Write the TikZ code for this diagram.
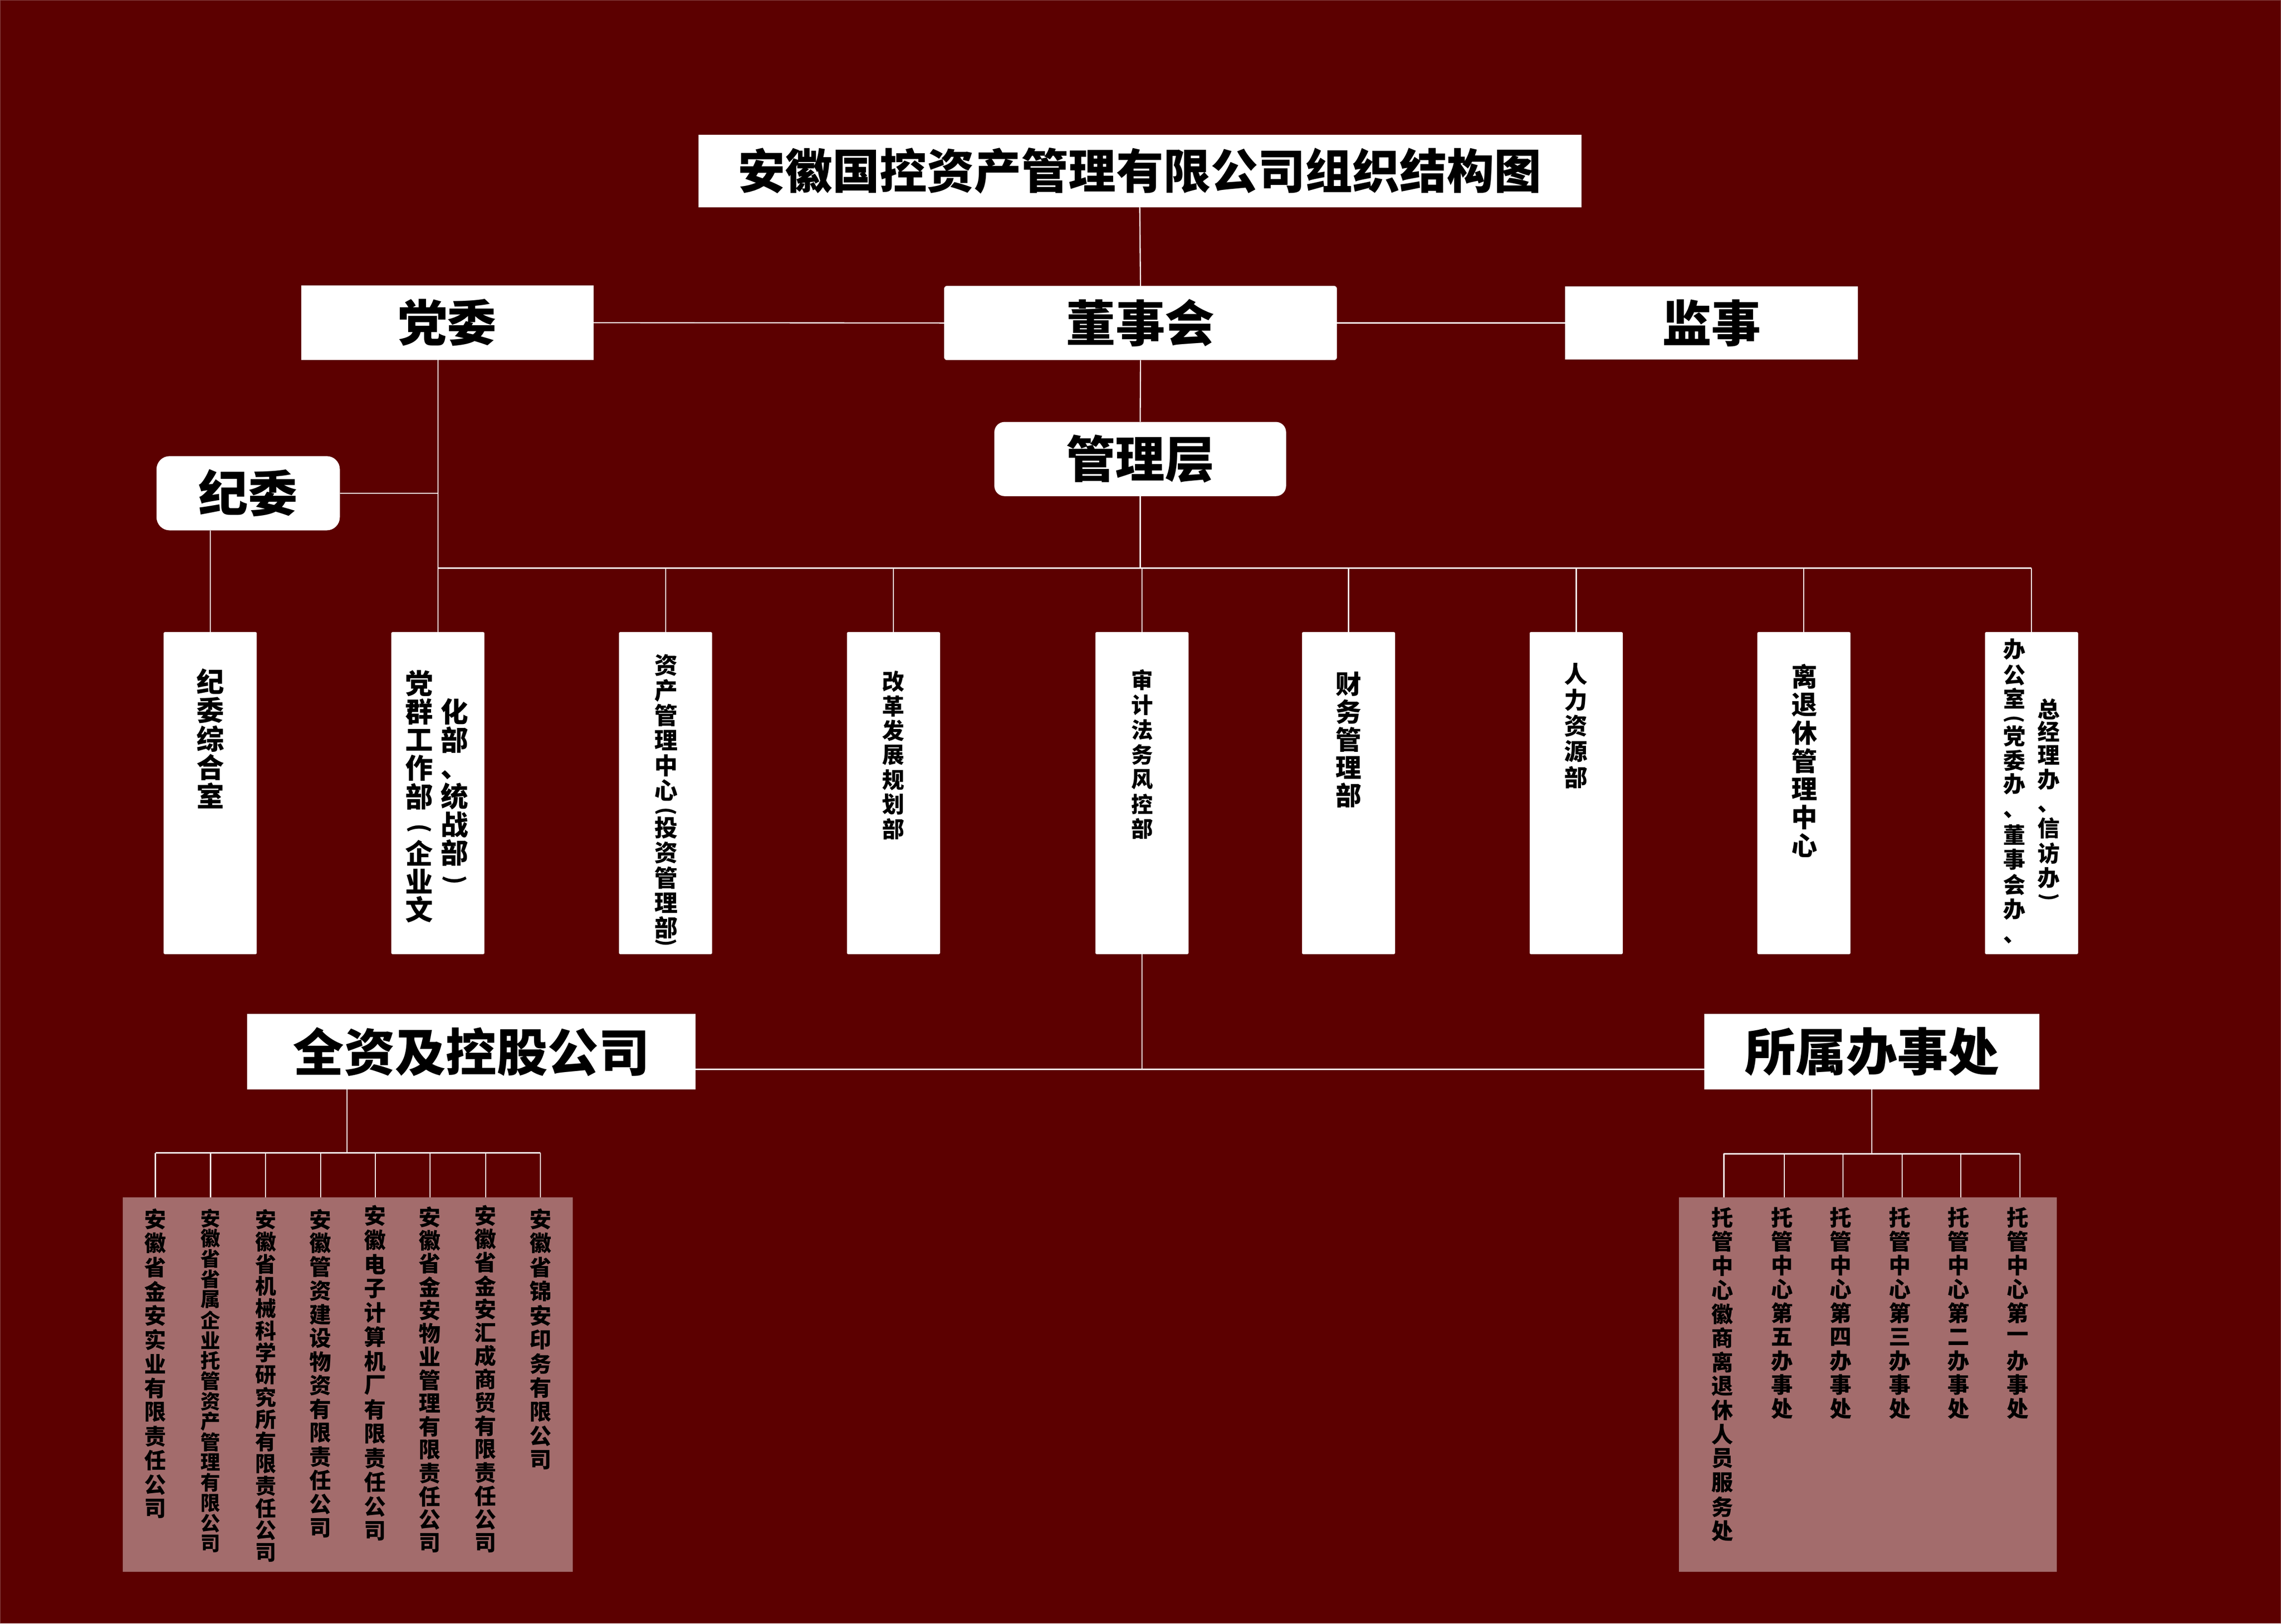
\documentclass[tikz,border=0pt]{standalone}
\usepackage{fontspec}
\newfontfamily\cjk{Noto Sans CJK SC}
\definecolor{bg}{RGB}{92,0,0}
\definecolor{pk}{RGB}{163,108,108}
\definecolor{ln}{RGB}{250,238,238}
\definecolor{frame}{RGB}{140,72,72}
% vertical text, explicit offsets: name, x, y of first ink centre, step, font size, list char/offset
\newcommand\vtxt[6]{%
  \foreach \ch/\o [count=\k] in {#6}{%
    \node[vch, font={\cjk\bfseries\fontsize{#5mm}{#5mm}\selectfont}] (#1-\k) at (#2,{#3+\o*#4}) {\ch};}}
% vertical text, uniform steps
\newcommand\vtxu[6]{%
  \foreach \ch [count=\k from 0] in {#6}{%
    \node[vch, font={\cjk\bfseries\fontsize{#5mm}{#5mm}\selectfont}] (#1-\k) at (#2,{#3+\k*#4}) {\ch};}}
% vertical bracket (rotated bracket): name, x, y, font size, bracket
\newcommand\vbr[5]{%
  \node[vch, rotate=-90, font={\cjk\bfseries\fontsize{#4mm}{#4mm}\selectfont}] (#1) at (#2,#3) {#5};}
\begin{document}
\begin{tikzpicture}[x=1mm,y=-1mm,
  wbox/.style={fill=white,draw=none,inner sep=0,text=black},
  hd/.style={wbox,font={\cjk\bfseries\fontsize{34mm}{34mm}\selectfont}},
  dept/.style={wbox,minimum width=64mm,minimum height=221.3mm,rounded corners=0.8mm},
  pkbox/.style={fill=pk,draw=none,inner sep=0},
  vch/.style={inner sep=0,text=black,anchor=center},
  conn/.style={draw=ln,line width=0.8mm},
]
\fill[bg] (0,0) rectangle (1568,1116);
\draw[frame,line width=0.4mm] (0.2,0.2) rectangle (1567.8,1115.8);

% top level
\node[hd,minimum width=607mm,minimum height=50mm,font={\cjk\bfseries\fontsize{32.5mm}{32.5mm}\selectfont}] (title) at (783.5,117.5) {安徽国控资产管理有限公司组织结构图};
\node[hd,minimum width=270mm,minimum height=51mm,rounded corners=2mm] (dsh) at (784,222) {董事会};
\node[hd,minimum width=201mm,minimum height=50mm] (jianshi) at (1176.5,222) {监事};
\node[hd,minimum width=201mm,minimum height=51mm] (dangwei) at (307.5,221.8) {党委};
\node[hd,minimum width=200.5mm,minimum height=51mm,rounded corners=7mm] (glc) at (783.8,315.5) {管理层};
\node[hd,minimum width=126mm,minimum height=51mm,rounded corners=9mm] (jiwei) at (170.6,339) {纪委};

% departments
\node[dept] (d1) at (144.5,545.1) {};
\node[dept] (d2) at (301,545.1) {};
\node[dept] (d3) at (457.5,545.1) {};
\node[dept] (d4) at (614.2,545.1) {};
\node[dept] (d5) at (785,545.1) {};
\node[dept] (d6) at (927,545.1) {};
\node[dept] (d7) at (1083.5,545.1) {};
\node[dept] (d8) at (1240,545.1) {};
\node[dept] (d9) at (1396.5,545.1) {};

\vtxu{t1}{144.7}{468.4}{19.64}{19}{纪,委,综,合,室}
\vtxt{t2a}{288.2}{469.6}{19.45}{19}{党/0,群/1,工/2,作/3,部/4,企/6,业/7,文/8}
\vbr{t2a-p}{288.2}{569.2}{16}{(}
\vtxt{t2b}{312.5}{469.6}{19.45}{19}{化/1,部/2,、/3.24,统/4,战/5,部/6}
\vbr{t2b-p}{312.5}{605.0}{16}{)}
\vtxt{t3}{457.8}{457.4}{17.17}{16}{资/0,产/1,管/2,理/3,中/4,心/5,投/6.5,资/7.5,管/8.5,理/9.5,部/10.5}
\vbr{t3-p1}{457.8}{557.5}{14}{(}
\vbr{t3-p2}{457.8}{648.0}{14}{)}
\vtxu{t4}{614.2}{468.4}{16.9}{15.3}{改,革,发,展,规,划,部}
\vtxu{t5}{785}{467.5}{17.04}{15}{审,计,法,务,风,控,部}
\vtxu{t6}{927}{470.3}{19.07}{17.8}{财,务,管,理,部}
\vtxu{t7}{1083.5}{463.4}{17.7}{16}{人,力,资,源,部}
\vtxu{t8}{1240.5}{465}{19.33}{17.8}{离,退,休,管,理,中,心}
\vtxt{t9a}{1384.6}{446.3}{16.78}{15.3}{办/0,公/1.05,室/2,党/3.55,委/4.55,办/5.52,、/6.77,董/7.6,事/8.6,会/9.64,办/10.64,、/11.9}
\vbr{t9a-p}{1384.6}{494.3}{13.5}{(}
\vtxt{t9b}{1408.4}{446.3}{16.78}{15.3}{总/2.45,经/3.36,理/4.34,办/5.34,、/6.55,信/7.32,访/8.36,办/9.36}
\vbr{t9b-p}{1408.4}{616.6}{13.5}{)}

% lower headers
\node[hd,minimum width=308mm,minimum height=51.7mm,font={\cjk\bfseries\fontsize{35mm}{35mm}\selectfont}] (qz) at (324,722.8) {全资及控股公司};
\node[hd,minimum width=230.4mm,minimum height=51.7mm,font={\cjk\bfseries\fontsize{35mm}{35mm}\selectfont}] (sb) at (1286.8,722.8) {所属办事处};

% pink panels
\node[pkbox,minimum width=309.1mm,minimum height=257.3mm] (pL) at (239.05,951.65) {};
\node[pkbox,minimum width=260mm,minimum height=257.3mm] (pR) at (1284,951.65) {};

% connectors, upper part
\coordinate (bus) at (784,390.5);
\draw[conn] (title.south) -- (dsh.north);
\draw[conn] (dsh.south) -- (glc.north);
\draw[conn] (glc.south) -- (glc.south |- bus);
\draw[conn] (dangwei.east) -- (dsh.west);
\draw[conn] (dsh.east) -- (jianshi.west);
\draw[conn] (dangwei.south -| d2.north) -- (d2.north);
\draw[conn] (jiwei.east) -- (jiwei.east -| d2.north);
\draw[conn] (jiwei.south -| d1.north) -- (d1.north);
\draw[conn] (d2.north |- bus) -- (d9.north |- bus);
\foreach \d in {d3,d4,d5,d6,d7,d8,d9}{\draw[conn] (\d.north |- bus) -- (\d.north);}

% connectors, lower part
\coordinate (hb) at (784,735);
\draw[conn] (d5.south) -- (d5.south |- hb);
\draw[conn] (qz.east |- hb) -- (sb.west |- hb);

\coordinate (lb) at (238.5,792.4);
\draw[conn] (lb |- qz.south) -- (lb);
\foreach \x [count=\i] in {106.8,144.7,182.6,220.4,258,295.6,333.8,371.5}{\coordinate (cL\i) at (\x,823);}
\draw[conn] (cL1 |- lb) -- (cL8 |- lb);
\foreach \i in {1,...,8}{\draw[conn] (cL\i |- lb) -- (cL\i);}

\coordinate (rb) at (1286.8,793);
\draw[conn] (sb.south) -- (sb.south |- rb);
\foreach \x [count=\i] in {1185,1226.5,1267,1307.6,1348,1388.5}{\coordinate (cR\i) at (\x,823);}
\draw[conn] (cR1 |- rb) -- (cR6 |- rb);
\foreach \i in {1,...,6}{\draw[conn] (cR\i |- rb) -- (cR\i);}

% company names
\vtxu{q1}{106.8}{837.8}{16.6}{15}{安,徽,省,金,安,实,业,有,限,责,任,公,司}
\vtxu{q2}{144.7}{837.3}{13.98}{13.6}{安,徽,省,省,属,企,业,托,管,资,产,管,理,有,限,公,司}
\vtxu{q3}{182.6}{838.2}{15.26}{14.5}{安,徽,省,机,械,科,学,研,究,所,有,限,责,任,公,司}
\vtxu{q4}{220.4}{838.2}{16.3}{15}{安,徽,管,资,建,设,物,资,有,限,责,任,公,司}
\vtxu{q5}{258}{835.7}{16.65}{15}{安,徽,电,子,计,算,机,厂,有,限,责,任,公,司}
\vtxu{q6}{295.6}{836.5}{16}{15}{安,徽,省,金,安,物,业,管,理,有,限,责,任,公,司}
\vtxu{q7}{333.8}{835.7}{16.05}{15}{安,徽,省,金,安,汇,成,商,贸,有,限,责,任,公,司}
\vtxu{q8}{371.5}{837.8}{16.57}{15}{安,徽,省,锦,安,印,务,有,限,公,司}

% offices
\vtxu{o1}{1184}{836.8}{16.57}{15}{托,管,中,心,徽,商,离,退,休,人,员,服,务,处}
\vtxu{o2}{1225}{836.8}{16.44}{15}{托,管,中,心,第,五,办,事,处}
\vtxu{o3}{1265.5}{836.8}{16.44}{15}{托,管,中,心,第,四,办,事,处}
\vtxu{o4}{1306}{836.8}{16.44}{15}{托,管,中,心,第,三,办,事,处}
\vtxu{o5}{1346.5}{836.8}{16.44}{15}{托,管,中,心,第,二,办,事,处}
\vtxu{o6}{1387}{836.8}{16.44}{15}{托,管,中,心,第,一,办,事,处}
\end{tikzpicture}
\end{document}
